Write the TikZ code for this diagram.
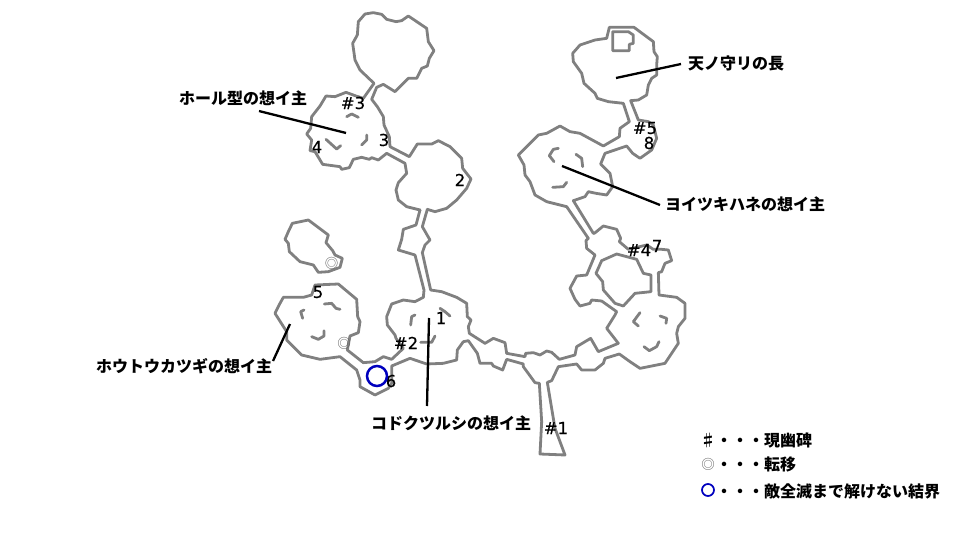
\documentclass[tikz,border=0pt]{standalone}
\usepackage{fontspec}
\setmainfont[FakeBold=0.4]{DejaVu Sans}
\newfontfamily\jpfont{Noto Sans CJK JP}
\definecolor{wallgray}{RGB}{128,128,128}
\definecolor{warpgray}{RGB}{95,95,95}
\definecolor{ringblue}{RGB}{0,0,190}
\tikzset{
  wall/.style={draw=wallgray,line width=2.8pt,line join=round,line cap=round},
  leader/.style={draw=black,line width=2.3pt},
  num/.style={font=\fontsize{16.5}{16.5}\selectfont,text=black,inner sep=0pt},
  jp/.style={font=\jpfont\bfseries\fontsize{16}{16}\selectfont,text=black,inner sep=0pt,anchor=west},
  warp/.style={font=\jpfont\fontsize{13.5}{13.5}\selectfont,text=warpgray,inner sep=0pt},
  ring/.style={circle,draw=ringblue,inner sep=0pt},
  za/.style={xshift=270pt,yshift=0pt,scale=1/3},
  zb/.style={xshift=510pt,yshift=-10pt,scale=1/3},
  zc/.style={xshift=260pt,yshift=-210pt,scale=1/3},
  zd/.style={xshift=460pt,yshift=-220pt,scale=1/3},
}
\begin{document}
\begin{tikzpicture}[x=1pt,y=-1pt]
\useasboundingbox (0,0) rectangle (960,540);
% ---- zoom A : top-left caves
\begin{scope}[za]
\draw[wall] (312,250) -- (270,210) -- (255,180) -- (248,130) -- (262,105) -- (265,65) -- (285,42) -- (310,38) -- (335,43) -- (350,58) -- (378,65) -- (395,62) -- (415,48) -- (470,85) -- (475,125) -- (492,152) -- (478,175) -- (472,198) -- (455,205) -- (440,235) -- (415,235) -- (375,275) -- (340,253) -- (320,262) -- (305,298) -- (322,320) -- (340,350) -- (342,375) -- (358,410) -- (360,440) -- (418,470) -- (442,432) -- (485,432) -- (505,422) -- (540,440) -- (575,475) -- (578,505) -- (603,537) -- (590,565) -- (560,600) -- (530,625) -- (495,635) -- (472,628) coordinate (jr);
\draw[wall] (312,250) -- (280,295) -- (258,288) -- (228,277) -- (195,290) -- (168,288) -- (150,318) -- (125,350) -- (122,385) -- (110,402) -- (125,420) -- (120,452) -- (135,455) -- (158,493) -- (210,500) -- (215,508) -- (238,503) -- (250,478) -- (275,472) -- (298,478) -- (305,473) -- (325,480) -- (350,460) -- (405,490) -- (410,520) -- (385,548) -- (378,570) -- (385,600) -- (410,620) -- (450,630) coordinate (jl);
\draw[wall] (230,350) -- (245,342) -- (265,352);
\draw[wall] (168,418) -- (190,438) -- (200,447) -- (212,437);
\draw[wall] (290,405) -- (290,420) -- (275,435);
\end{scope}
% ---- zoom C : lower-left caves
\begin{scope}[zc]
\draw[wall] (jl) -- (468,45) -- (430,58) -- (425,88) -- (415,120) -- (465,135) -- (492,240) -- (490,262) -- (465,275) -- (430,270) -- (395,282) -- (380,320) -- (382,345) -- (405,375) -- (408,385) -- (430,415) -- (395,448) -- (370,440) -- (345,455) -- (310,458) -- (262,420) -- (270,378) -- (295,368) -- (300,335) -- (293,320) -- (290,268) -- (235,222) -- (165,225) -- (155,255) -- (130,262) -- (95,262) -- (70,262) -- (60,280) -- (45,310) -- (80,365) -- (80,390) -- (125,435) -- (180,448) -- (240,440) -- (290,480) -- (300,510) -- (300,530) -- (345,555) -- (385,535) -- (395,520) -- (395,468) -- (450,445) -- (500,462) -- (550,460) -- (590,450) -- (592,420) -- (610,395) coordinate (jlow);
\draw[wall] (jr) -- (487,50) -- (510,90) -- (495,105) -- (487,128) -- (512,240) -- (545,245) -- (590,262) coordinate (jup);
\draw[wall] (97,40) -- (145,30) -- (205,75) -- (198,98) -- (218,122) -- (225,135) -- (247,145) -- (240,172) -- (205,185) -- (175,187) -- (160,165) -- (120,155) -- (88,125) -- (85,100) -- (75,88) -- (85,65) -- cycle;
\draw[wall] (132,300) -- (122,305) -- (128,325);
\draw[wall] (193,282) -- (215,280) -- (228,295) -- (240,298);
\draw[wall] (155,380) -- (175,388) -- (192,378) -- (192,362);
\draw[wall] (452,345) -- (455,320) -- (465,315);
\draw[wall] (540,295) -- (555,305) -- (570,318);
\draw[wall] (482,397) -- (515,397) -- (525,378);
\end{scope}
% ---- zoom B : top-right caves
\begin{scope}[zb]
\draw[wall] (298,52) -- (372,52) -- (430,95) -- (432,125) -- (442,140) -- (440,165) -- (440,195) -- (425,205) -- (415,225) -- (410,255) -- (385,270) -- (362,272) -- (385,330) -- (415,335) -- (430,345) -- (440,385) -- (425,420) -- (390,445) -- (368,430) -- (350,408) -- (285,430) -- (272,462) -- (300,490) -- (308,530) -- (290,555) -- (258,550) -- (235,545) -- (225,560) -- (190,572) -- (250,670) coordinate (ja);
\draw[wall] (298,52) -- (290,85) -- (255,90) -- (210,105) -- (188,130) -- (190,155) -- (215,190) -- (222,220) -- (255,250) -- (262,265) -- (295,275) -- (340,280) -- (358,335) -- (330,355) -- (328,380) -- (280,408) -- (210,370) -- (180,365) -- (150,348) -- (110,370) -- (85,375) -- (60,400) -- (25,435) -- (42,465) -- (45,495) -- (60,515) -- (75,555) -- (110,575) -- (170,590) -- (235,685) coordinate (jb);
\draw[wall] (308,65) -- (355,65) -- (370,75) -- (370,100) -- (358,103) -- (358,122) -- (308,122) -- cycle;
\draw[wall] (145,415) -- (130,418) -- (118,437) -- (132,455);
\draw[wall] (198,433) -- (215,445) -- (218,470);
\draw[wall] (128,532) -- (160,530) -- (170,517);
\end{scope}
% ---- zoom D : lower-right caves
\begin{scope}[zd]
\draw[wall] (jup) -- (20,250) -- (22,290) -- (33,300) -- (25,320) -- (28,340) -- (75,370) -- (100,355) -- (135,368) -- (140,400) -- (195,410) -- (197,400) -- (220,398) -- (240,405) -- (260,393) -- (275,397) -- (298,418) -- (345,405) -- (350,380) -- (392,355) -- (415,395) -- (475,370) -- (440,325) -- (465,285) -- (470,275) -- (425,243) -- (395,240) -- (390,250) -- (360,258) -- (345,238) -- (330,205) -- (350,168) -- (380,165) -- (405,105) -- (380,85) -- (378,62) -- (jb);
\draw[wall] (ja) -- (403,40) -- (430,18) -- (470,28) -- (482,55) -- (478,65) -- (505,88) -- (560,75) -- (580,88) -- (605,88) -- (625,90) -- (635,122) -- (615,130) -- (605,155) -- (595,158) -- (597,225) -- (650,232) -- (675,250) -- (675,295) -- (655,320) -- (650,340) -- (655,370) -- (615,430) -- (540,445) -- (510,425) -- (478,402) -- (435,415) -- (430,430) -- (405,450) -- (365,450) -- (350,432) -- (295,440) -- (275,482) -- (262,487) -- (285,625) -- (315,705) -- (240,702) -- (245,605) -- (238,490) -- (225,488) -- (190,440) -- (190,432) -- (140,418) -- (128,450) -- (100,438) -- (95,430) -- (60,430) -- (52,400) -- (25,362) -- (jlow);
\draw[wall] (425,122) -- (470,102) -- (530,118) -- (550,160) -- (573,165) -- (573,215) -- (525,220) -- (490,258) -- (465,250) -- (430,210) -- (428,185) -- (408,160) -- cycle;
\draw[wall] (540,278) -- (520,305) -- (535,318);
\draw[wall] (600,288) -- (620,295) -- (618,310);
\draw[wall] (552,380) -- (568,392) -- (590,380) -- (597,365);
\end{scope}
% ---- numbers
\node[num] (n3a) at (353,103) {\#3};
\node[num] (n3)  at (384,140) {3};
\node[num] (n4)  at (317,147) {4};
\node[num] (n2)  at (460,180) {2};
\node[num] (n5)  at (318,292) {5};
\node[num] (n1)  at (441,318) {1};
\node[num] (n2a) at (406,343) {\#2};
\node[num] (n6)  at (391,381) {6};
\node[num] (n1a) at (556,428) {\#1};
\node[num] (n4a) at (639,250) {\#4};
\node[num] (n7)  at (657,246) {7};
\node[num] (n5a) at (645,128) {\#5};
\node[num] (n8)  at (649,143) {8};
% ---- warps and barrier
\node[warp] (w1) at (331.5,263) {◎};
\node[warp] (w2) at (344,343) {◎};
\node[ring,line width=2.5pt,minimum size=20pt] (bar) at (377,376) {};
% ---- labels and leaders
\node[jp] (lHoll) at (179,98) {ホール型の想イ主};
\node[jp] (lAma)  at (688,63) {天ノ守リの長};
\node[jp] (lYoi)  at (665,204) {ヨイツキハネの想イ主};
\node[jp] (lHou)  at (96,366) {ホウトウカツギの想イ主};
\node[jp] (lKod)  at (371,423) {コドクツルシの想イ主};
\coordinate (a1) at (259,111); \coordinate (a2) at (346,133);
\coordinate (b1) at (681,64);  \coordinate (b2) at (616,78);
\coordinate (c1) at (660,205); \coordinate (c2) at (562,166);
\coordinate (d1) at (273,361); \coordinate (d2) at (290,324);
\coordinate (e1) at (427,406); \coordinate (e2) at (429,318);
\draw[leader] (a1) -- (a2);
\draw[leader] (b1) -- (b2);
\draw[leader] (c1) -- (c2);
\draw[leader] (d1) -- (d2);
\draw[leader] (e1) -- (e2);
% ---- legend
\node[jp] (k1) at (700,440) {♯・・・現幽碑};
\node[warp] (k2s) at (708,464) {◎};
\node[jp] (k2) at (716,464) {・・・転移};
\node[ring,line width=1.7pt,minimum size=12pt] (k3s) at (708,490) {};
\node[jp] (k3) at (716,491) {・・・敵全滅まで解けない結界};
\end{tikzpicture}
\end{document}
